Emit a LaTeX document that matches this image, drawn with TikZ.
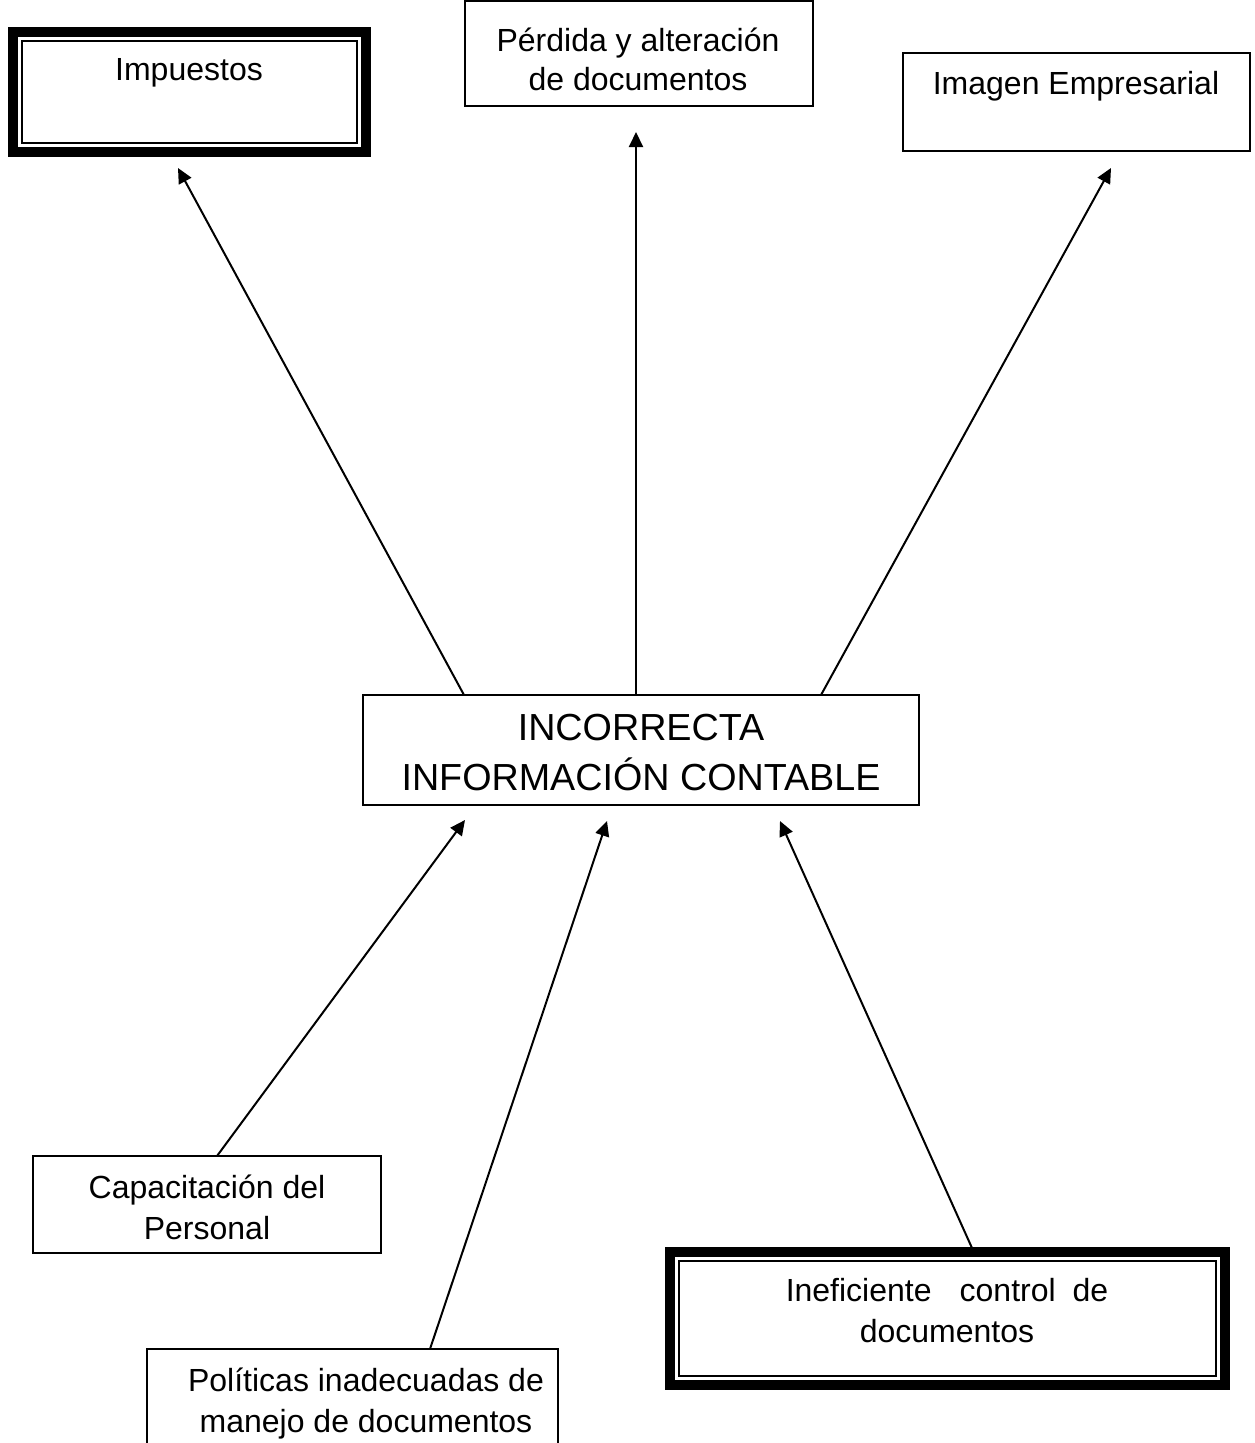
\documentclass[tikz,border=0pt]{standalone}
\usepackage{fontspec}
\setmainfont{Liberation Sans}
\usetikzlibrary{arrows.meta}
\begin{document}
\begin{tikzpicture}[x=1pt,y=-1pt,
  box/.style={draw,line width=1.8pt},
  thickframe/.style={line width=10pt},
  lbl/.style={anchor=base,inner sep=0pt,font=\fontsize{32}{37}\selectfont},
  biglbl/.style={anchor=base,inner sep=0pt,font=\fontsize{37.7}{52}\selectfont},
  arr/.style={line width=2pt,-{Triangle[length=15pt,width=14pt]}}]
\useasboundingbox[fill=white] (0,0) rectangle (1255,1443);

% Impuestos (double frame)
\draw[box] (22,41) rectangle (357,143);
\draw[thickframe] (13,32) rectangle (366,152);
\node[lbl] (imp) at (189,80) {Impuestos};

% Pérdida y alteración
\draw[box] (465,1) rectangle (813,106);
\node[lbl] (perd1) at (638,51) {Pérdida y alteración};
\node[lbl] (perd2) at (638,90) {de documentos};

% Imagen Empresarial
\draw[box] (903,53) rectangle (1250,151);
\node[lbl] (imag) at (1076,94) {Imagen Empresarial};

% central problem
\draw[box] (363,695) rectangle (919,805);
\node[biglbl] (ctr1) at (641,740) {INCORRECTA};
\node[biglbl] (ctr2) at (641,790) {INFORMACIÓN CONTABLE};

% Capacitación del Personal
\draw[box] (33,1156) rectangle (381,1253);
\node[lbl] (cap1) at (207,1198) {Capacitación del};
\node[lbl] (cap2) at (207,1239) {Personal};

% Políticas inadecuadas (open at the page edge)
\draw[box] (147,1460) -- (147,1349) -- (558,1349) -- (558,1460);
\node[lbl] (pol1) at (366,1391) {Políticas inadecuadas de};
\node[lbl] (pol2) at (366,1432) {manejo de documentos};

% Ineficiente control (double frame)
\draw[box] (679,1261) rectangle (1216,1376);
\draw[thickframe] (670,1252) rectangle (1225,1385);
\node[lbl] (inef1) at (947,1301) {Ineficiente\hspace{0.6em} control\hspace{0.25em} de};
\node[lbl] (inef2) at (947,1342) {documentos};

% connector end points
\coordinate (c1s) at (464,695);  \coordinate (c1e) at (178,168);
\coordinate (c2s) at (636,695);  \coordinate (c2e) at (636,132);
\coordinate (c3s) at (821,695);  \coordinate (c3e) at (1111,168);
\coordinate (c4s) at (217,1156); \coordinate (c4e) at (465,820);
\coordinate (c5s) at (430,1349); \coordinate (c5e) at (607,821);
\coordinate (c6s) at (972,1248); \coordinate (c6e) at (780,821);

\draw[arr] (c1s) -- (c1e);
\draw[arr] (c2s) -- (c2e);
\draw[arr] (c3s) -- (c3e);
\draw[arr] (c4s) -- (c4e);
\draw[arr] (c5s) -- (c5e);
\draw[arr] (c6s) -- (c6e);
\end{tikzpicture}
\end{document}
